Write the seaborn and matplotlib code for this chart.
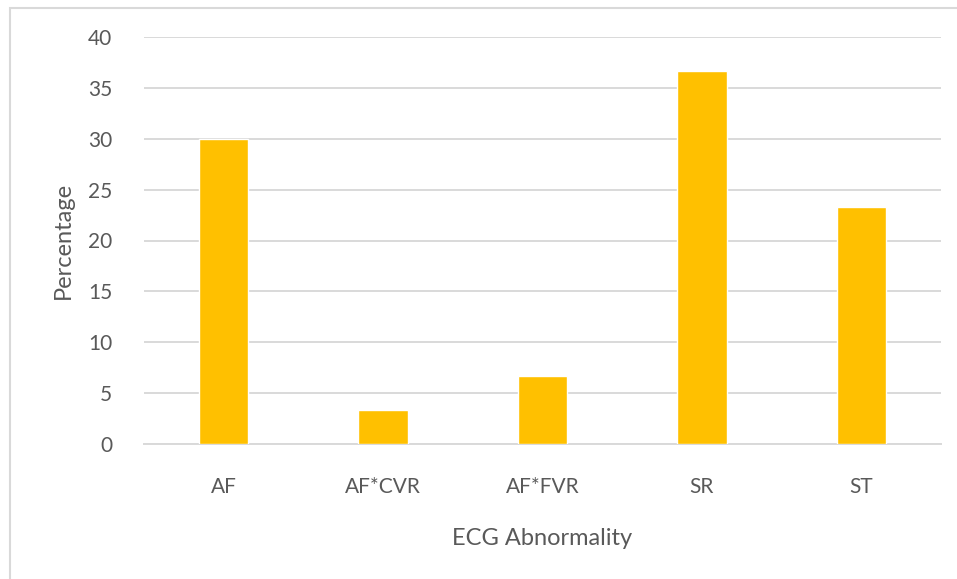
import matplotlib
matplotlib.use("Agg")
import matplotlib.pyplot as plt
import seaborn as sns
import pandas as pd
from matplotlib.patches import Rectangle

categories = ["AF", "AF*CVR", "AF*FVR", "SR", "ST"]
percentages = [30.0, 3.33, 6.67, 36.67, 23.33]
y_ticks = [0, 5, 10, 15, 20, 25, 30, 35, 40]

sns.set_theme(style="white")
plt.rcParams['font.family'] = ['Lato', 'DejaVu Sans']

df = pd.DataFrame({"cat": categories, "pct": percentages})

W, H = 957, 579
fig = plt.figure(figsize=(W / 100, H / 100), dpi=100)
fig.patch.set_facecolor("white")
ax = fig.add_axes([144 / W, (H - 444) / H, 797 / W, 407 / H])

sns.barplot(data=df, x="cat", y="pct", color="#FFC000", saturation=1,
            width=0.31, ax=ax, zorder=3)

ax.set_ylim(0, 40)
ax.set_xlim(-0.5, len(categories) - 0.5)
ax.set_yticks(y_ticks)
ax.yaxis.grid(True, color="#D9D9D9", linewidth=1.4, zorder=0)
ax.set_axisbelow(True)
for s in ["top", "right", "left"]:
    ax.spines[s].set_visible(False)
ax.spines["bottom"].set_color("#D9D9D9")
ax.spines["bottom"].set_linewidth(1.4)
ax.tick_params(axis="both", length=0, labelsize=15, colors="#595959")
ax.tick_params(axis="y", pad=23)
ax.tick_params(axis="x", pad=24)
ax.set_xlabel("ECG Abnormality", fontsize=17, color="#595959", labelpad=22)
ax.set_ylabel("Percentage", fontsize=17, color="#595959", labelpad=10)

# outer chart border (partially visible)
fig.patches.append(Rectangle((10 / W, -0.1), 1.2, (H - 8) / H + 0.1,
                             transform=fig.transFigure, fill=False,
                             edgecolor="#D9D9D9", linewidth=1.5))

fig.savefig("out.png", dpi=100)
